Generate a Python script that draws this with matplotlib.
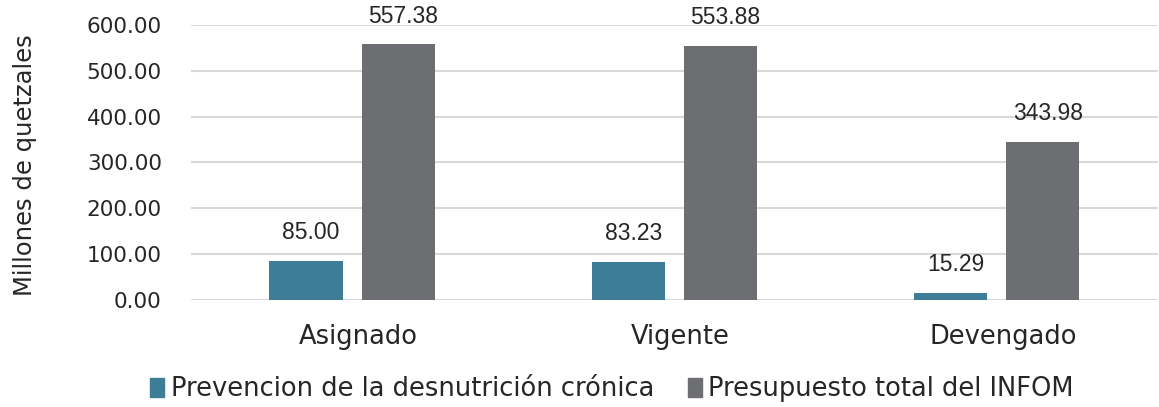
import matplotlib
matplotlib.use("Agg")
import matplotlib.pyplot as plt
import matplotlib.transforms as mtransforms
import numpy as np
from matplotlib.patches import Patch

categories = ["Asignado", "Vigente", "Devengado"]
series_names = ["Prevencion de la desnutrición crónica", "Presupuesto total del INFOM"]
prevencion = [85.00, 83.23, 15.29]
infom = [557.38, 553.88, 343.98]
yticks = [0, 100, 200, 300, 400, 500, 600]

teal = "#3D7D98"
gray = "#6D6E72"
txt = "#262626"

fig = plt.figure(figsize=(11.59, 4.07), dpi=100)
ax = fig.add_axes([0.1648, 0.263, 0.8343, 0.6757])

x = np.arange(len(categories))
w = 0.227
off = 0.143
b1 = ax.bar(x - off, prevencion, w, color=teal, zorder=3)
b2 = ax.bar(x + off, infom, w, color=gray, zorder=3)

shift = mtransforms.ScaledTranslation(5 / 100, 0, fig.dpi_scale_trans)
for bars, vals in ((b1, prevencion), (b2, infom)):
    for r, v in zip(bars, vals):
        ax.text(r.get_x() + r.get_width() / 2, v + 37, f"{v:.2f}",
                ha="center", va="bottom", fontsize=16.5, color=txt,
                family="Liberation Sans", fontstretch="normal", clip_on=False,
                transform=ax.transData + shift)

ax.set_xlim(-0.5, 2.5)
ax.set_ylim(0, 600)
ax.set_yticks(yticks)
ax.set_yticklabels([f"{t:.2f}" for t in yticks], fontsize=15.5, color=txt)
ax.set_xticks(x)
ax.set_xticklabels([])
catshift = mtransforms.ScaledTranslation(6 / 100, -37 / 100, fig.dpi_scale_trans)
for xi, c in zip(x, categories):
    ax.text(xi, 0, c, ha="center", va="center", fontsize=18.5, color=txt,
            transform=ax.get_xaxis_transform() + catshift, clip_on=False)
ax.tick_params(axis="both", length=0)
ax.tick_params(axis="y", pad=21)
ax.grid(axis="y", color="#D9D9D9", linewidth=1.5, zorder=0)
for s in ax.spines.values():
    s.set_visible(False)

fig.text(0.022, 0.595, "Millones de quetzales", rotation=90, ha="center", va="center",
         fontsize=17.5, color=txt)

handles = [Patch(color=teal), Patch(color=gray)]
fig.legend(handles, series_names, loc="lower center", bbox_to_anchor=(0.528, -0.045),
           ncol=2, frameon=False, fontsize=18.5, handlelength=0.55, handleheight=0.75,
           handletextpad=0.25, columnspacing=1.3, labelcolor=txt)

fig.savefig("out.png", dpi=100)
